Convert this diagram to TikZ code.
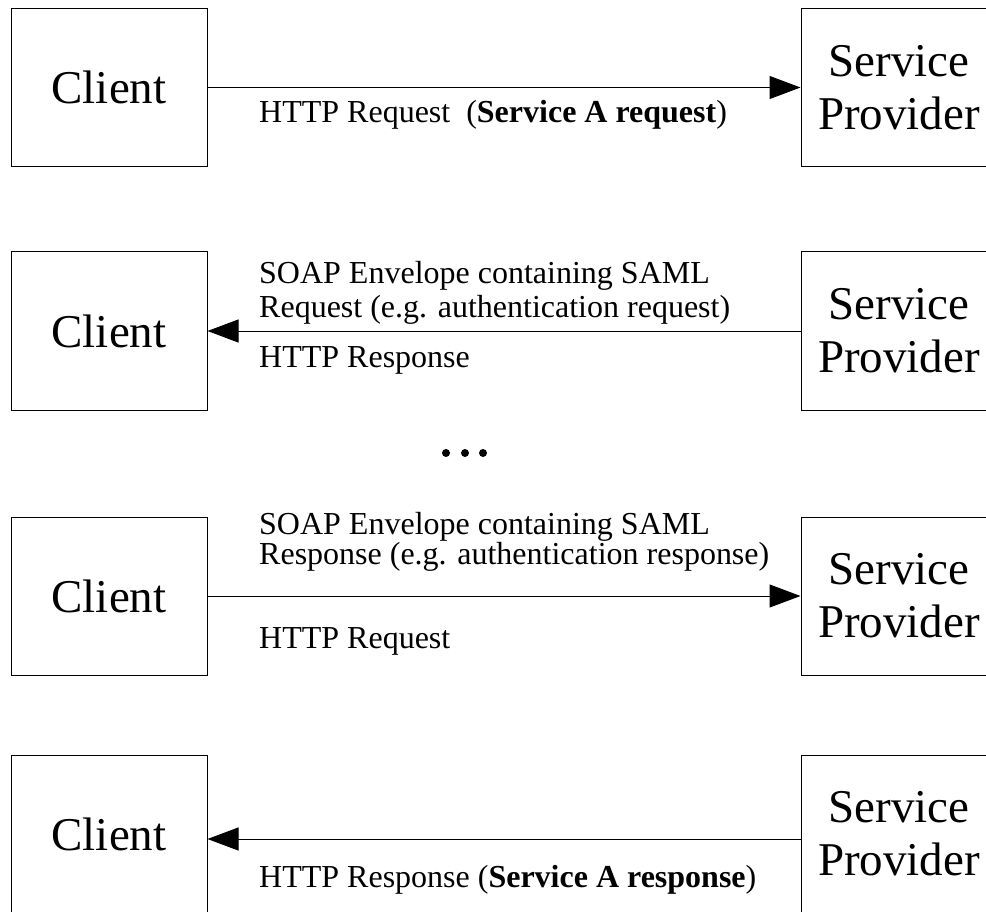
\documentclass[tikz,border=0pt]{standalone}
\usepackage{fontspec}
\setmainfont{Liberation Serif}
\usetikzlibrary{arrows.meta}
\begin{document}
\begin{tikzpicture}[x=1pt, y=-1pt,
    party/.style={rectangle, draw, line width=1pt, minimum width=196pt, minimum height=158pt,
        inner sep=0pt, align=center, font=\fontsize{47}{53}\selectfont},
    msg/.style={inner sep=0pt, align=left, font=\fontsize{32}{34}\selectfont},
    flow/.style={-{Triangle[length=31pt, width=23pt]}, line width=1pt}]
    \clip (0,0) rectangle (986,912);
    % step 1: plain request
    \node[party] (c1) at (109,87.5) {Client};
    \node[party] (s1) at (899,87.5) {Service\\Provider};
    \draw[flow] (c1) to (s1);
    \node[msg, anchor=base west] (m1) at (259,123) {HTTP Request\ \ (\textbf{Service A request})};
    % step 2: SAML request back to client
    \node[party] (c2) at (109,331) {Client};
    \node[party] (s2) at (899,331) {Service\\Provider};
    \draw[flow] (s2) to (c2);
    \node[msg, anchor=south west] (m2a) at (259,325) {SOAP Envelope containing SAML\\Request (e.g. authentication request)};
    \node[msg, anchor=base west] (m2b) at (259,367) {HTTP Response};
    % gap
    \foreach \x in {446,465,483}
        \fill (\x,453) circle (4);
    % step 3: SAML response to provider
    \node[party] (c3) at (109,596) {Client};
    \node[party] (s3) at (899,596) {Service\\Provider};
    \draw[flow] (c3) to (s3);
    \node[msg, anchor=south west, font=\fontsize{32}{29}\selectfont] (m3a) at (259,572) {SOAP Envelope containing SAML\\Response (e.g. authentication response)};
    \node[msg, anchor=base west] (m3b) at (259,648) {HTTP Request};
    % step 4: final response
    \node[party] (c4) at (109,834) {Client};
    \node[party] (s4) at (899,834) {Service\\Provider};
    \draw[flow] ([yshift=-5pt]s4.west) to ([yshift=-5pt]c4.east);
    \node[msg, anchor=base west] (m4) at (259,887) {HTTP Response (\textbf{Service A response})};
\end{tikzpicture}
\end{document}
